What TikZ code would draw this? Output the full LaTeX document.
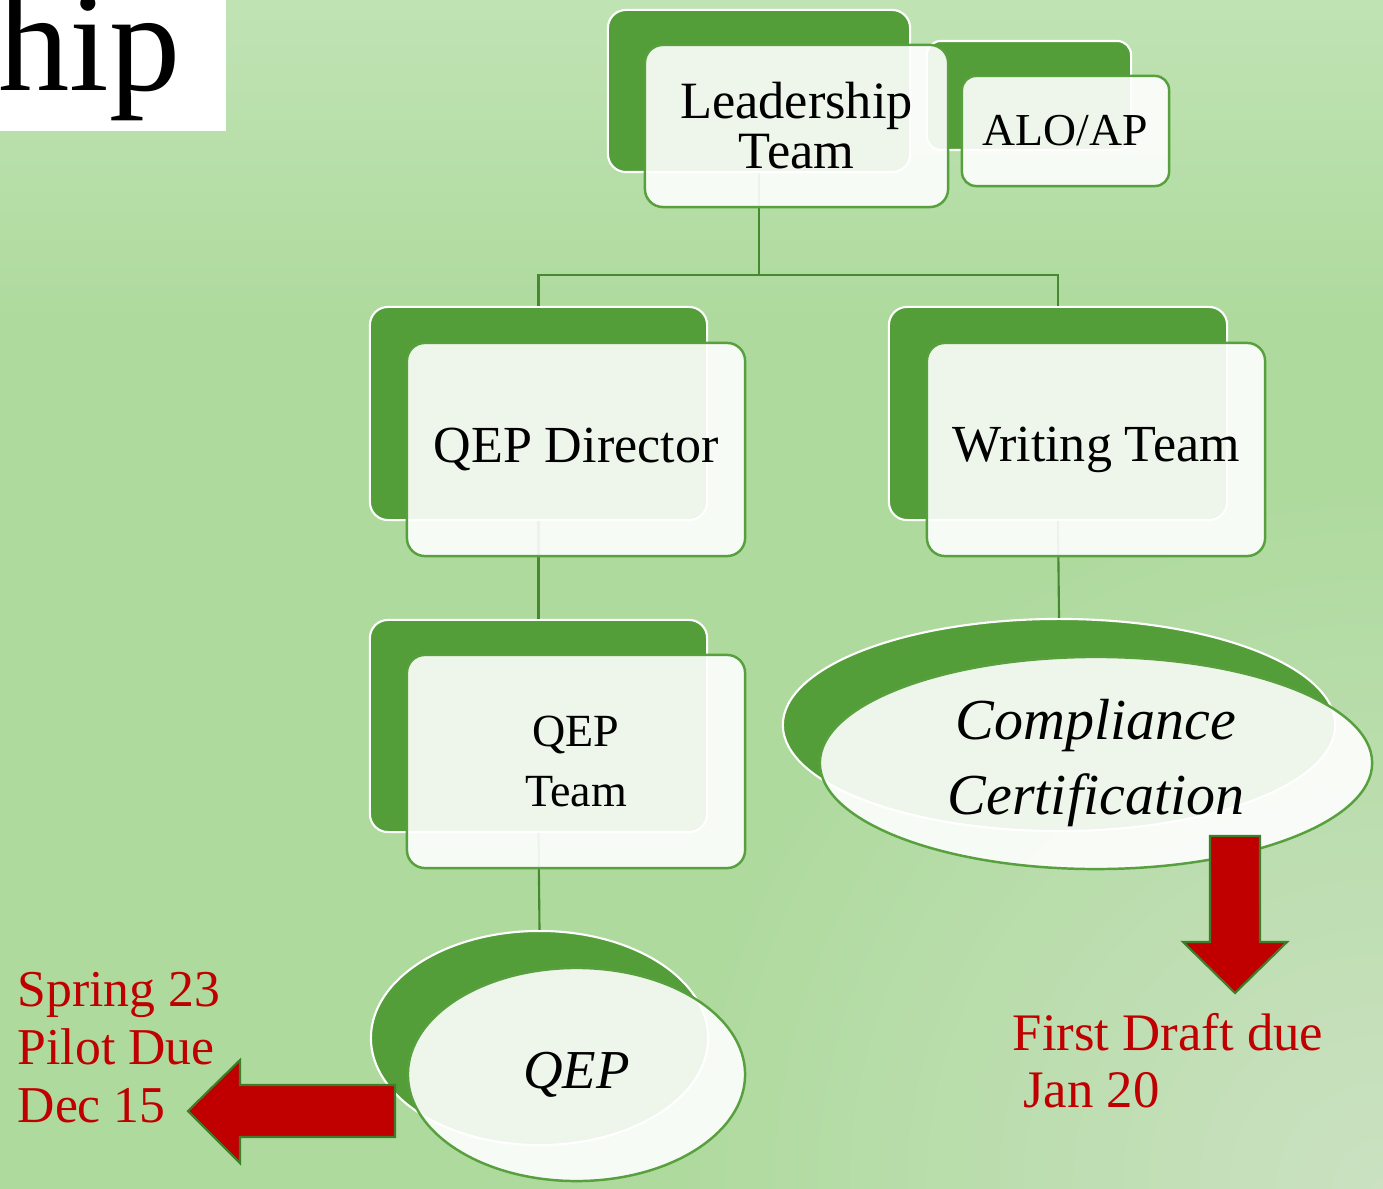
\documentclass[tikz,border=0pt]{standalone}
\usepackage{fontspec}
\setmainfont{Liberation Serif}
\usetikzlibrary{shapes.geometric}

\definecolor{bgbase}{RGB}{174,218,157}
\definecolor{bgtop}{RGB}{192,227,180}
\definecolor{bglight}{RGB}{203,225,194}
\definecolor{dkgreen}{RGB}{84,158,58}
\definecolor{edgegreen}{RGB}{88,160,62}
\definecolor{linkgreen}{RGB}{70,138,48}
\definecolor{arrowred}{RGB}{192,0,0}
\definecolor{arrowedge}{RGB}{62,125,42}

\tikzset{
  backbox/.style={draw=white, line width=0.6pt, fill=dkgreen, rounded corners=0.18cm, inner sep=0pt},
  frontbox/.style={draw=edgegreen, line width=0.7pt, fill=white, fill opacity=0.9, text opacity=1,
                   rounded corners=0.18cm, inner sep=0pt, align=center},
  backoval/.style={ellipse, draw=white, line width=0.6pt, fill=dkgreen, inner sep=0pt},
  frontoval/.style={ellipse, draw=edgegreen, line width=0.7pt, fill=white, fill opacity=0.9, text opacity=1,
                    inner sep=0pt, align=center},
  link/.style={draw=linkgreen, line width=0.6pt},
  bigarrow/.style={fill=arrowred, draw=arrowedge, line width=0.6pt, line join=miter},
  note/.style={text=arrowred, inner sep=0pt, align=left}
}

\begin{document}
\begin{tikzpicture}[x=0.01cm, y=-0.01cm]
\useasboundingbox (0,0) rectangle (1383,1189);

% backdrop
\begin{scope}
  \clip (0,0) rectangle (1383,1189);
  \fill[bgbase] (0,0) rectangle (1383,1189);
  \shade[top color=bgtop, bottom color=bgbase] (0,0) rectangle (1383,330);
  \shade[inner color=bglight, outer color=bgbase] (1383,1189) circle (7.2cm);
\end{scope}

% title fragment
\begin{scope}
  \clip (0,0) rectangle (226,131);
  \fill[white] (0,0) rectangle (226,131);
  \node[anchor=base west, inner sep=0pt, font=\fontsize{40.5}{41}\selectfont] (title) at (-2,91) {hip};
\end{scope}

% connector points
\coordinate (bus) at (759,275);

% rear shapes
\node[backbox, minimum width=3.02cm, minimum height=1.62cm] (ltb) at (759,91) {};
\node[backbox, minimum width=2.04cm, minimum height=1.09cm, rounded corners=0.14cm] (alob) at (1029,95.5) {};
\node[backbox, minimum width=3.37cm, minimum height=2.13cm] (qdb) at (538.5,413.5) {};
\node[backbox, minimum width=3.38cm, minimum height=2.13cm] (wtb) at (1058,413.5) {};
\node[backbox, minimum width=3.37cm, minimum height=2.12cm] (qtb) at (538.5,726) {};
\node[backoval, minimum width=5.52cm, minimum height=2.12cm] (ccb) at (1059,725) {};
\node[backoval, minimum width=3.37cm, minimum height=2.14cm] (qepb) at (539.5,1038) {};

% connectors
\draw[link] (ltb.south) -- (bus) -| (qdb.north);
\draw[link] (bus) -| (wtb.north);
\draw[link] (qdb.south) -- (qtb.north);
\draw[link] (wtb.south) -- (ccb.north);
\draw[link] (qtb.south) -- (qepb.north);

% front shapes with labels
\node[frontbox, minimum width=3.03cm, minimum height=1.62cm,
      font=\fontsize{14.9}{14.2}\selectfont] (lt) at (796.5,126) {Leadership\\Team};
\node[frontbox, minimum width=2.07cm, minimum height=1.10cm, rounded corners=0.14cm,
      font=\fontsize{13}{14}\selectfont] (alo) at (1065.5,131) {ALO/AP};
\node[frontbox, minimum width=3.38cm, minimum height=2.13cm,
      font=\fontsize{14.8}{16}\selectfont] (qd) at (576,449.5) {QEP Director};
\node[frontbox, minimum width=3.38cm, minimum height=2.13cm,
      font=\fontsize{14.8}{16}\selectfont] (wt) at (1096,449.5) {Writing Team};
\node[frontbox, minimum width=3.38cm, minimum height=2.13cm,
      font=\fontsize{13.1}{17}\selectfont] (qt) at (576,761.5) {QEP\\Team};
\node[frontoval, minimum width=5.52cm, minimum height=2.12cm,
      font=\fontsize{16.5}{21.3}\selectfont\itshape] (cc) at (1096,763) {Compliance\\Certification};
\node[frontoval, minimum width=3.37cm, minimum height=2.13cm,
      font=\fontsize{15.6}{17}\selectfont\itshape] (qep) at (576.5,1074.5) {QEP};

% deadline arrows
\draw[bigarrow] (395,1085) -- (240,1085) -- (240,1060) -- (188,1111) -- (240,1163)
                -- (240,1137) -- (395,1137) -- cycle;
\draw[bigarrow] (1210,836) -- (1260,836) -- (1260,942) -- (1287,942) -- (1235,993)
                -- (1183,942) -- (1210,942) -- cycle;

% deadline notes
\node[note, anchor=north west, font=\fontsize{14.7}{16.5}\selectfont] (pilot) at (17,972)
  {Spring 23\\Pilot Due\\Dec 15};
\node[note, anchor=north west, font=\fontsize{15}{16.2}\selectfont] (draft) at (1012,1013)
  {First Draft due\\\hspace{0.2em}Jan 20};
\end{tikzpicture}
\end{document}
